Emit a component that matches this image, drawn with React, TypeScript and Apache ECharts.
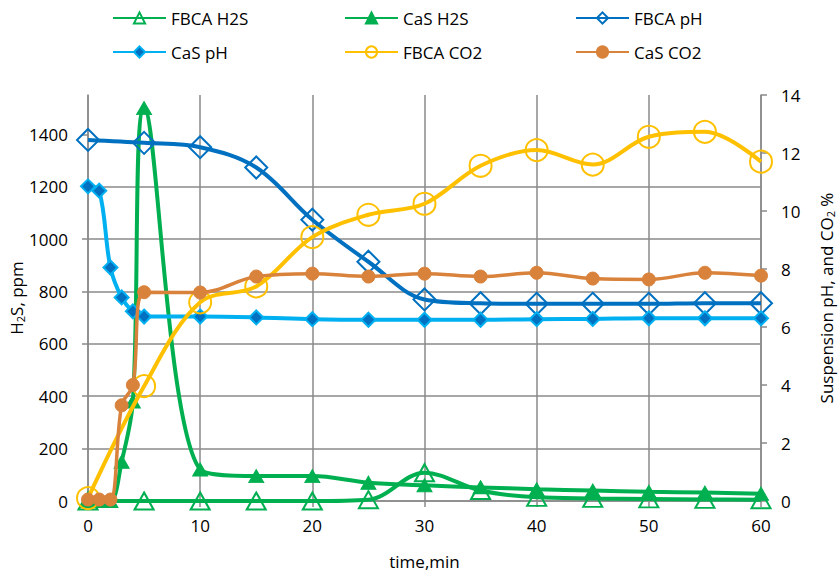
import React, { useEffect, useRef } from 'react';
import * as echarts from 'echarts';

// time axes (min)
const timeCaS = [0, 1, 2, 3, 4, 5, 10, 15, 20, 25, 30, 35, 40, 45, 50, 55, 60];
const timeFbca = [0, 5, 10, 15, 20, 25, 30, 35, 40, 45, 50, 55, 60];

// H2S, ppm (left axis)
const fbcaH2S = [0, 0, 0, 0, 0, 5, 108, 40, 14, 10, 8, 6, 5];
const casH2S = [0, 0, 0, 150, 380, 1500, 120, 95, 95, 70, 60, 52, 45, 40, 35, 32, 28];

// Suspension pH (right axis)
const fbcaPH = [12.45, 12.35, 12.2, 11.5, 9.7, 8.25, 6.95, 6.82, 6.8, 6.8, 6.8, 6.82, 6.82];
const casPH = [10.85, 10.7, 8.05, 7.02, 6.54, 6.36, 6.36, 6.33, 6.27, 6.25, 6.25, 6.25, 6.27, 6.28, 6.3, 6.3, 6.3];

// CO2, % (right axis)
const fbcaCO2 = [0.1, 3.96, 6.85, 7.4, 9.1, 9.87, 10.25, 11.56, 12.1, 11.6, 12.56, 12.73, 11.7];
const casCO2 = [0.05, 0.05, 0.05, 3.3, 4.0, 7.2, 7.19, 7.74, 7.84, 7.74, 7.84, 7.74, 7.87, 7.67, 7.64, 7.87, 7.77];

// tick labels
const leftTicks = [0, 200, 400, 600, 800, 1000, 1200, 1400];

const pair = (t: number[], v: number[]) => t.map((x, i) => [x, v[i]]);

const FONT = 'Open Sans';
const GRID = '#8a8a8a';
const GREEN = '#00B050';
const DBLUE = '#0070C0';
const LBLUE = '#00B0F0';
const YELLOW = '#FFC000';
const ORANGE = '#D9823B';
const CLEAR = 'rgba(255,255,255,0)';

export default function App() {
  const ref = useRef<HTMLDivElement>(null);
  useEffect(() => {
    const chart = echarts.init(ref.current!, null, { renderer: 'svg' });
    const line = (name: string, data: number[][], yAxisIndex: number, color: string, width: number, symbol: string, size: any, fill: string, border: string, bw: number, z: number) => ({
      name,
      type: 'line',
      data,
      yAxisIndex,
      smooth: 0.35,
      symbol,
      symbolSize: size,
      showSymbol: true,
      z,
      lineStyle: { color, width },
      itemStyle: { color: fill, borderColor: border, borderWidth: bw },
      emphasis: { disabled: true },
      silent: true,
    });
    const txt = { color: '#000', fontFamily: FONT, fontSize: 17 };
    const axisLineStyle = { color: GRID, width: 1.5 };
    const subRich = { sub: { fontSize: 11, lineHeight: 11, verticalAlign: 'bottom', fontFamily: FONT, color: '#000' } };
    const legendBase = {
      orient: 'vertical',
      top: 3,
      itemWidth: 53,
      itemHeight: 14,
      itemGap: 14,
      textStyle: { ...txt, fontSize: 17, lineHeight: 20 },
      selectedMode: false,
    };
    chart.setOption({
      animation: false,
      backgroundColor: '#fff',
      textStyle: { fontFamily: FONT },
      legend: [
        { ...legendBase, left: 107, data: ['FBCA H2S', 'CaS pH'] },
        { ...legendBase, left: 339, data: ['CaS H2S', 'FBCA CO2'] },
        { ...legendBase, left: 570, data: ['FBCA pH', 'CaS CO2'] },
      ],
      grid: { left: 88, right: 78, top: 95, bottom: 75, containLabel: false, outerBoundsMode: 'none' },
      xAxis: {
        type: 'value',
        min: 0,
        max: 60,
        interval: 10,
        name: 'time,min',
        nameLocation: 'middle',
        nameGap: 52,
        nameMoveOverlap: false,
        nameTextStyle: txt,
        axisLine: { show: true, onZero: false, lineStyle: axisLineStyle },
        axisTick: { show: true, length: 6, lineStyle: axisLineStyle },
        axisLabel: { ...txt, margin: 16, formatter: (v: number) => String(v) },
        splitLine: { show: true, lineStyle: axisLineStyle },
      },
      yAxis: [
        {
          type: 'value',
          min: 0,
          max: 1550,
          interval: 200,
          name: 'H{sub|2}S, ppm',
          nameLocation: 'middle',
          nameRotate: 90,
          nameGap: 62,
          nameMoveOverlap: false,
          nameTextStyle: { ...txt, lineHeight: 20, rich: subRich },
          axisLine: { show: true, lineStyle: axisLineStyle },
          axisTick: { show: true, length: 6, lineStyle: axisLineStyle, customValues: leftTicks },
          axisLabel: { ...txt, margin: 20, customValues: leftTicks, formatter: (v: number) => String(v) },
          splitLine: { show: true, showMaxLine: false, lineStyle: axisLineStyle },
        },
        {
          type: 'value',
          min: 0,
          max: 14,
          interval: 2,
          position: 'right',
          name: 'Suspension pH, and CO{sub|2} %',
          nameLocation: 'middle',
          nameRotate: 90,
          nameGap: 55,
          nameMoveOverlap: false,
          nameTextStyle: { ...txt, lineHeight: 20, rich: subRich },
          axisLine: { show: true, lineStyle: axisLineStyle },
          axisTick: { show: true, length: 6, lineStyle: axisLineStyle },
          axisLabel: { ...txt, margin: 20, formatter: (v: number) => String(v) },
          splitLine: { show: false },
        },
      ],
      series: [
        line('FBCA H2S', pair(timeFbca, fbcaH2S), 0, GREEN, 4, 'triangle', [19, 17], CLEAR, GREEN, 2, 2),
        line('CaS H2S', pair(timeCaS, casH2S), 0, GREEN, 4, 'triangle', [15, 13], GREEN, GREEN, 1, 3),
        line('FBCA pH', pair(timeFbca, fbcaPH), 1, DBLUE, 4, 'diamond', 22, CLEAR, DBLUE, 2, 4),
        line('CaS pH', pair(timeCaS, casPH), 1, LBLUE, 4, 'diamond', 14, DBLUE, LBLUE, 2, 5),
        line('FBCA CO2', pair(timeFbca, fbcaCO2), 1, YELLOW, 4, 'circle', 22, CLEAR, YELLOW, 2, 6),
        line('CaS CO2', pair(timeCaS, casCO2), 1, ORANGE, 3.5, 'circle', 13, ORANGE, ORANGE, 1, 7),
      ],
    });
    return () => chart.dispose();
  }, []);
  return <div ref={ref} style={{ position: 'fixed', left: 0, top: 0, width: 839, height: 576 }} />;
}
